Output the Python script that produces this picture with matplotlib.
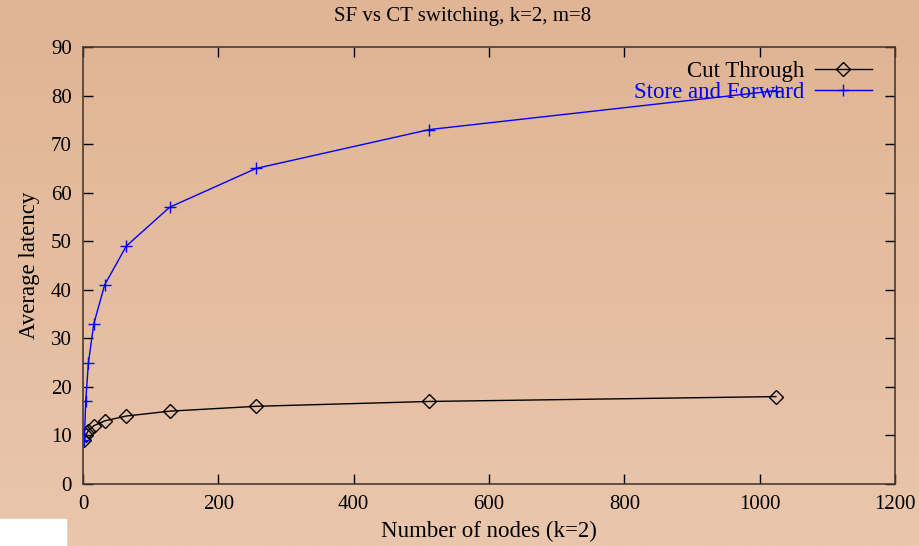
import numpy as np
import matplotlib
matplotlib.use("Agg")
import matplotlib.pyplot as plt
from matplotlib.patches import Rectangle

nodes = [2, 4, 8, 16, 32, 64, 128, 256, 512, 1024]
cut_through = [9, 10, 11, 12, 13, 14, 15, 16, 17, 18]
store_forward = [9, 17, 25, 33, 41, 49, 57, 65, 73, 81]

plt.rcParams['font.family'] = ['Liberation Serif', 'DejaVu Serif']
plt.rcParams['font.size'] = 15

fig = plt.figure(figsize=(9.19, 5.46), dpi=100)

# background gradient
top = np.array([224, 180, 148]) / 255.0
bot = np.array([233, 198, 172]) / 255.0
t = np.linspace(0, 1, 256)[:, None]
grad = (top[None, :] * (1 - t) + bot[None, :] * t)[:, None, :]
bg = fig.add_axes([0, 0, 1, 1], zorder=-10)
bg.imshow(grad, aspect='auto', extent=[0, 1, 0, 1])
bg.set_axis_off()
bg.add_patch(Rectangle((0, 0), 66 / 919, 27 / 546, color='white', transform=bg.transAxes))

ax = fig.add_axes([83 / 919, 62 / 546, (895 - 83) / 919, (484 - 47) / 546])
ax.patch.set_alpha(0)

ax.plot(nodes, cut_through, color='black', lw=1, marker='D', ms=7,
        mfc='none', mec='black', mew=1, label='Cut Through')
ax.plot(nodes, store_forward, color='blue', lw=1, marker='+', ms=9,
        mew=1, label='Store and Forward')

ax.set_xlim(0, 1200)
ax.set_ylim(0, 90)
ax.set_xticks(range(0, 1201, 200))
ax.set_yticks(range(0, 91, 10))
ax.tick_params(direction='in', length=7, width=1, top=True, right=True,
               labelsize=15, pad=8, colors='black')
for s in ax.spines.values():
    s.set_color('#4a3c34')
    s.set_linewidth(1.2)

fig.text(0.503, 1 - 16 / 546, 'SF vs CT switching, k=2, m=8', fontsize=15,
         ha='center', va='center')
ax.set_xlabel('Number of nodes (k=2)', fontsize=16.5, labelpad=5)
ax.set_ylabel('Average latency', fontsize=16.5, labelpad=8)

leg = ax.legend(loc='upper right', markerfirst=False, frameon=False,
                handlelength=2.5, handletextpad=0.45, labelspacing=0.0,
                borderaxespad=0.0, fontsize=16.5, bbox_to_anchor=(0.983, 0.99))
leg.get_texts()[0].set_color('black')
leg.get_texts()[1].set_color('blue')

fig.savefig('out.png', dpi=100)
